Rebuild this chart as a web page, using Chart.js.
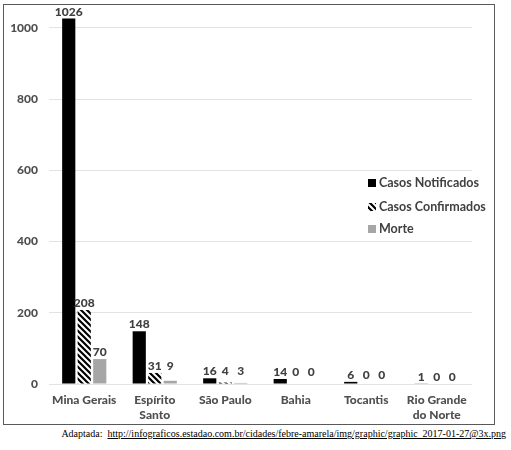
<!DOCTYPE html>
<html>
<head>
<meta charset="utf-8">
<script src="https://cdn.jsdelivr.net/npm/chart.js@4.4.1/dist/chart.umd.min.js"></script>
<style>
  body { margin: 0; background: #fff; }
  #frame { position: absolute; left: 3px; top: 4px; width: 492px; height: 421px; box-sizing: border-box; border: 1px solid #595959; }
  #source { position: absolute; left: 0; top: 428px; width: 506px; text-align: right; font-family: "Liberation Serif", serif; font-size: 10px; color: #000; white-space: pre; }
  #source span { text-decoration: underline; }
</style>
</head>
<body>
<div id="frame"><canvas id="chart" width="490" height="419"></canvas></div>
<div id="source">Adaptada:  <span>http://infograficos.estadao.com.br/cidades/febre-amarela/img/graphic/graphic_2017-01-27@3x.png</span></div>
<script>
const estados = ['Mina Gerais', ['Espírito', 'Santo'], 'São Paulo', 'Bahia', 'Tocantis', ['Rio Grande', 'do Norte']];
const notificados = [1026, 148, 16, 14, 6, 1];
const confirmados = [208, 31, 4, 0, 0, 0];
const mortes = [70, 9, 3, 0, 0, 0];
const legenda = ['Casos Notificados', 'Casos Confirmados', 'Morte'];

const textColor = '#505050';
const fontFamily = 'Lato, "Open Sans", sans-serif';

// diagonal hatch, "\" direction
function makeHatch() {
    const s = 6;
    const c = document.createElement('canvas');
    c.width = s; c.height = s;
    const g = c.getContext('2d');
    g.fillStyle = '#fff';
    g.fillRect(0, 0, s, s);
    g.strokeStyle = '#000';
    g.lineWidth = 2.2;
    g.beginPath();
    g.moveTo(-1, -1); g.lineTo(s + 1, s + 1);
    g.moveTo(-1, s - 1); g.lineTo(1, s + 1);
    g.moveTo(s - 1, -1); g.lineTo(s + 1, 1);
    g.stroke();
    return document.getElementById('chart').getContext('2d').createPattern(c, 'repeat');
}
const hatch = makeHatch();

// value labels on top of the bars; small values in a group share one line
const valueLabels = {
    id: 'valueLabels',
    afterDatasetsDraw(chart) {
        const ctx = chart.ctx;
        const n = chart.data.labels.length;
        ctx.save();
        ctx.font = '900 12px ' + fontFamily;
        ctx.fillStyle = '#404040';
        ctx.textAlign = 'center';
        ctx.textBaseline = 'alphabetic';
        for (let i = 0; i < n; i++) {
            let smallTop = null;
            chart.data.datasets.forEach((ds, d) => {
                const el = chart.getDatasetMeta(d).data[i];
                if (ds.data[i] < 40) smallTop = smallTop === null ? el.y : Math.min(smallTop, el.y);
            });
            chart.data.datasets.forEach((ds, d) => {
                const el = chart.getDatasetMeta(d).data[i];
                const y = ds.data[i] < 40 ? smallTop : el.y;
                ctx.fillText(String(ds.data[i]), el.x, y - 3);
            });
        }
        ctx.restore();
    }
};

// legend drawn inside the plot, on the right
const innerLegend = {
    id: 'innerLegend',
    afterDraw(chart) {
        const ctx = chart.ctx;
        const x = 364, ys = [178, 202, 224];
        ctx.save();
        ctx.font = 'bold 12.5px ' + fontFamily;
        ctx.textBaseline = 'middle';
        chart.data.datasets.forEach((ds, d) => {
            ctx.fillStyle = ds.backgroundColor;
            ctx.fillRect(x, ys[d] - 4, 8, 8);
            ctx.fillStyle = '#404040';
            ctx.fillText(legenda[d], x + 11, ys[d]);
        });
        ctx.restore();
    }
};

new Chart(document.getElementById('chart'), {
    type: 'bar',
    data: {
        labels: estados,
        datasets: [
            { label: legenda[0], data: notificados, backgroundColor: '#000000' },
            { label: legenda[1], data: confirmados, backgroundColor: hatch },
            { label: legenda[2], data: mortes, backgroundColor: '#a6a6a6' }
        ]
    },
    options: {
        responsive: false,
        animation: false,
        layout: { padding: { top: 5, right: 22, left: 0, bottom: 0 } },
        datasets: { bar: { categoryPercentage: 0.66, barPercentage: 0.85 } },
        plugins: { legend: { display: false }, tooltip: { enabled: false } },
        scales: {
            x: {
                grid: { display: false },
                border: { display: false },
                ticks: { color: textColor, padding: 0, maxRotation: 0, autoSkip: false, font: { family: fontFamily, size: 12, weight: 900, lineHeight: 1.3 } },
                afterFit(scale) { scale.height = 40; scale.paddingLeft = 0; scale.paddingRight = 0; }
            },
            y: {
                min: 0,
                max: 1050,
                grid: { color: '#e3e3e3', lineWidth: 1, drawTicks: false },
                border: { display: false },
                ticks: { stepSize: 200, color: textColor, padding: 11, font: { family: fontFamily, size: 12, weight: 900 }, callback: v => String(v) },
                afterBuildTicks(scale) { scale.ticks = scale.ticks.filter(t => t.value % 200 === 0); },
                afterFit(scale) { scale.width = 45; scale.paddingTop = 0; scale.paddingBottom = 0; }
            }
        }
    },
    plugins: [valueLabels, innerLegend]
});
</script>
</body>
</html>
